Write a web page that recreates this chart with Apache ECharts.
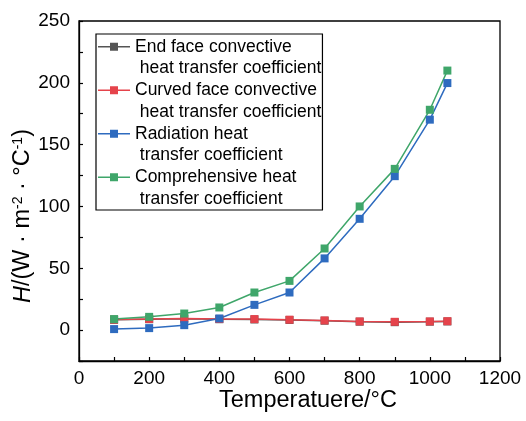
<!DOCTYPE html>
<html>
<head>
<meta charset="utf-8">
<script src="https://cdn.jsdelivr.net/npm/echarts@6/dist/echarts.min.js"></script>
<style>
html,body{margin:0;padding:0;background:#fff;}
#chart{width:526px;height:421px;}
</style>
</head>
<body>
<div id="chart"></div>
<script>
const temperatures = [100, 200, 300, 400, 500, 600, 700, 800, 900, 1000, 1050];
const endFace = [8.3, 8.8, 9.2, 8.8, 8.6, 8.2, 7.6, 6.8, 6.4, 6.8, 7.0];
const curvedFace = [8.5, 9.0, 9.4, 9.0, 8.9, 8.4, 7.8, 7.0, 6.7, 7.0, 7.2];
const radiation = [0.8, 1.6, 4.0, 9.4, 20.4, 30.4, 58, 90, 124.5, 170.2, 199.8];
const comprehensive = [8.9, 10.7, 13.4, 18.3, 30.4, 39.8, 66, 100, 130.4, 178.2, 209.9];
const seriesNames = [
  'End face convective\n heat transfer coefficient',
  'Curved face convective\n heat transfer coefficient',
  'Radiation heat\n transfer coefficient',
  'Comprehensive heat\n transfer coefficient'
];
const seriesColors = ['#555555', '#e5434b', '#2e6bbf', '#3fa66a'];
const xTickLabels = [0, 200, 400, 600, 800, 1000, 1200];
const yTickLabels = [0, 50, 100, 150, 200, 250];

const FONT = 'Arial, "Liberation Sans", sans-serif';
const iconPath = 'path://M0 0L0.01 0L0 0.01Z M0 9.95L32 9.95L32 11.55L0 11.55Z M12 6.75L20 6.75L20 14.75L12 14.75Z M0 43L0.01 43L0 42.99Z';

function pair(vals) { return temperatures.map((t, i) => [t, vals[i]]); }
const allVals = [endFace, curvedFace, radiation, comprehensive];

const chart = echarts.init(document.getElementById('chart'), null, {renderer: 'canvas'});
chart.setOption({
  animation: false,
  backgroundColor: '#fff',
  grid: {left: 79, top: 21, right: 26, bottom: 60, containLabel: false, outerBoundsMode: 'none', show: true, borderColor: '#000', borderWidth: 1.3, backgroundColor: 'transparent'},
  legend: {
    left: 96, top: 34, orient: 'vertical',
    padding: [2, 1, 0.5, 2],
    itemWidth: 32, itemHeight: 43, itemGap: 0.5,
    borderColor: '#000', borderWidth: 1.2,
    icon: iconPath,
    itemStyle: {borderWidth: 0},
    textStyle: {fontFamily: FONT, fontSize: 17.5, color: '#000', lineHeight: 21.5},
    data: seriesNames
  },
  xAxis: {
    type: 'value', min: 0, max: 1200, interval: 100,
    name: 'Temperatuere/°C', nameLocation: 'middle', nameGap: 28, nameMoveOverlap: false,
    nameTextStyle: {fontFamily: FONT, fontSize: 23.5, color: '#000', padding: [0, 0, 0, 37]},
    axisLine: {show: true, onZero: false, lineStyle: {color: '#000', width: 1.3}},
    axisTick: {show: true, inside: true, length: 4, lineStyle: {color: '#000', width: 1.2}},
    axisLabel: {
      fontFamily: FONT, fontSize: 19, color: '#000', margin: 8,
      formatter: v => (xTickLabels.indexOf(v) >= 0 ? String(v) : '')
    },
    splitLine: {show: false}
  },
  yAxis: {
    type: 'value', min: -25, max: 250, interval: 25,
    name: '{i|H}/(W · m{sup|-2} · °C{sup|-1})', nameLocation: 'middle', nameGap: 44, nameRotate: 90, nameMoveOverlap: false,
    nameTextStyle: {
      fontFamily: FONT, fontSize: 23.5, color: '#000', padding: [0, 50, 0, 0],
      rich: {
        i: {fontFamily: FONT, fontSize: 23.5, fontStyle: 'italic', color: '#000'},
        sup: {fontFamily: FONT, fontSize: 14, color: '#000', verticalAlign: 'top', padding: [0, 0, 9, 0]}
      }
    },
    axisLine: {show: true, onZero: false, lineStyle: {color: '#000', width: 1.3}},
    axisTick: {show: true, inside: true, length: 4, lineStyle: {color: '#000', width: 1.2}},
    axisLabel: {
      fontFamily: FONT, fontSize: 19, color: '#000', margin: 9,
      formatter: v => (yTickLabels.indexOf(v) >= 0 ? String(v) : '')
    },
    splitLine: {show: false}
  },
  series: seriesNames.map((name, k) => ({
    name: name,
    type: 'line',
    data: pair(allVals[k]),
    symbol: 'rect',
    symbolSize: 8,
    color: seriesColors[k],
    lineStyle: {width: 1.5, color: seriesColors[k]},
    itemStyle: {color: seriesColors[k]}
  }))
});
</script>
</body>
</html>
